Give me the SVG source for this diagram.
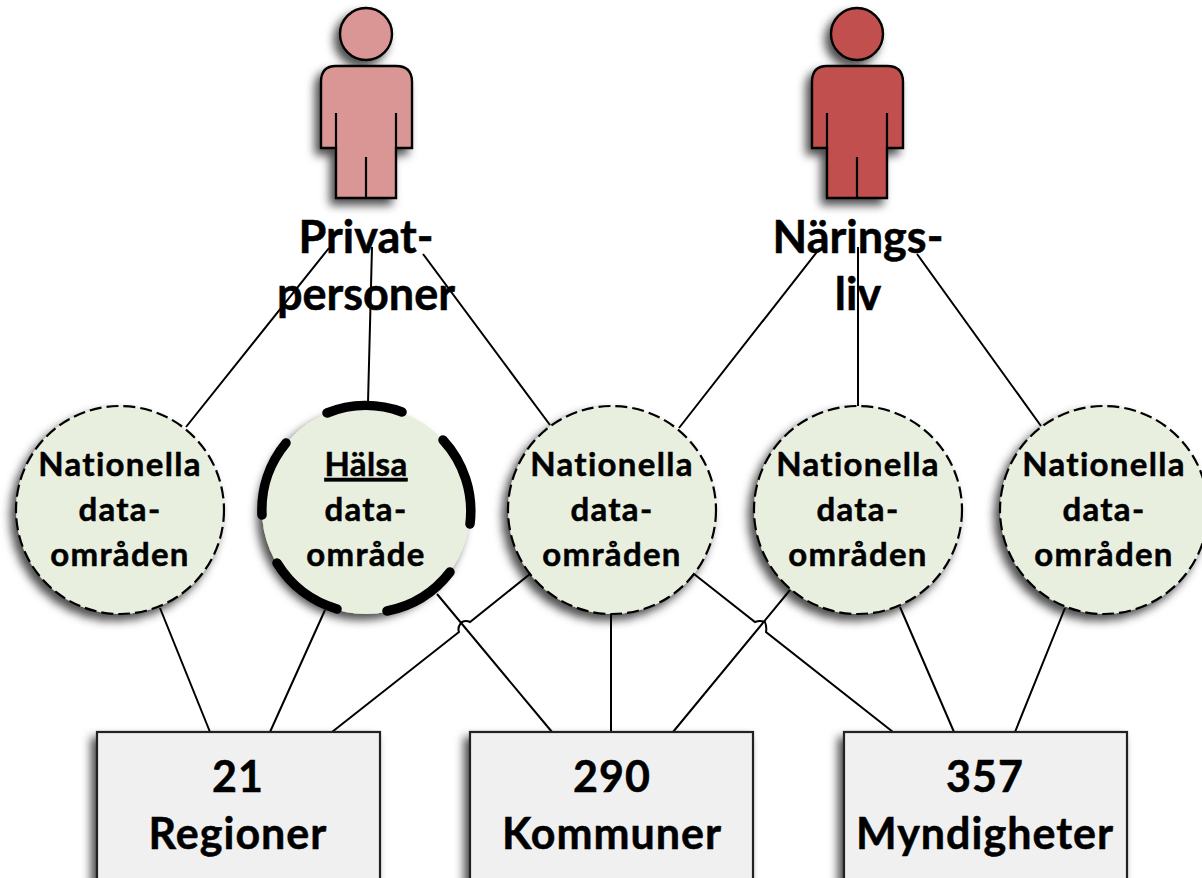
<svg xmlns="http://www.w3.org/2000/svg" width="1202" height="878" viewBox="0 0 1202 878">
<style>
text{font-family:"Lato","Open Sans","Liberation Sans",sans-serif;font-weight:700;fill:#000;stroke:#000;stroke-width:.5;text-anchor:middle}
.c{font-size:33px;letter-spacing:1.3px}
.l{font-size:45px}
.b{font-size:43px;letter-spacing:1px}
.d{fill:#e9efdf;stroke:#000;stroke-width:2.2;stroke-dasharray:12 5}
.r{fill:#f0f0f0;stroke:#222;stroke-width:2.2}
.p{stroke:#000;stroke-width:2.4}
.i{fill:none;stroke:#000;stroke-width:2.2}
#connectors path{fill:none;stroke:#000;stroke-width:2}
.h{fill:none;stroke:#000;stroke-width:9.5;stroke-linecap:round}
</style>
<defs>
<filter id="s" x="-20%" y="-20%" width="140%" height="140%"><feDropShadow dx="-5" dy="6" stdDeviation="5" flood-color="#000" flood-opacity=".7"/></filter>
<g id="person">
<g filter="url(#s)">
<circle cx="366" cy="34" r="26"/>
<path d="M336 66H396Q412 66 412 82V148H396V198H336V148H321V82Q321 66 336 66Z"/>
</g>
<path class="i" d="M336 113V148M396 113V148M366 157V198"/>
</g>
</defs>
<g id="connectors">
<path d="M186 427L329 248M368 403L372 247M550 425L423 254M679 428L820 248M858 406V247M1041 426L917 254"/>
<path d="M160 608L210 732M325 610L270 732M611 614V732M900 607L954 732M1065 608L1015 732"/>
<path d="M437 594L552 732M790 590L673 732"/>
<path d="M530 574L470 622Q466 620 462 622Q457 627 459 632L332 732"/>
<path d="M694 574L755 622Q760 620 765 622Q767 627 766 632L893 732"/>
</g>
<g id="person-privat" fill="#d99694" class="p"><use href="#person"/></g>
<g id="person-naring" fill="#c0504d" class="p"><use href="#person" x="491"/></g>
<g id="label-privat"><text class="l" x="366" y="253">Privat-</text><text class="l" x="366" y="310">personer</text></g>
<g id="label-naring"><text class="l" x="858" y="253">Närings-</text><text class="l" x="858" y="310">liv</text></g>
<g id="area1"><circle class="d" filter="url(#s)" cx="120" cy="510" r="104"/><text class="c" x="120" y="476">Nationella</text><text class="c" x="120" y="521">data-</text><text class="c" x="120" y="566">områden</text></g>
<g id="area2"><circle filter="url(#s)" fill="#e9efdf" cx="366" cy="510" r="104"/>
<path class="h" d="M327 413A105 105 0 0 1 402 412M443 440A105 105 0 0 1 470 524M450 572A105 105 0 0 1 387 611M337 609A105 105 0 0 1 277 563M262 515A105 105 0 0 1 286 443"/>
<text class="c" x="366" y="476" text-decoration="underline" style="letter-spacing:.4px">Hälsa</text><text class="c" x="366" y="521">data-</text><text class="c" x="366" y="566">område</text></g>
<g id="area3"><circle class="d" filter="url(#s)" cx="612" cy="510" r="104"/><text class="c" x="612" y="476">Nationella</text><text class="c" x="612" y="521">data-</text><text class="c" x="612" y="566">områden</text></g>
<g id="area4"><circle class="d" filter="url(#s)" cx="858" cy="510" r="104"/><text class="c" x="858" y="476">Nationella</text><text class="c" x="858" y="521">data-</text><text class="c" x="858" y="566">områden</text></g>
<g id="area5"><circle class="d" filter="url(#s)" cx="1104" cy="510" r="104"/><text class="c" x="1104" y="476">Nationella</text><text class="c" x="1104" y="521">data-</text><text class="c" x="1104" y="566">områden</text></g>
<g id="box-regioner"><rect class="r" filter="url(#s)" x="97" y="732" width="283" height="150"/><text class="b" x="238" y="792">21</text><text class="b" x="238" y="849">Regioner</text></g>
<g id="box-kommuner"><rect class="r" filter="url(#s)" x="470" y="732" width="283" height="150"/><text class="b" x="612" y="792">290</text><text class="b" x="612" y="849">Kommuner</text></g>
<g id="box-myndigheter"><rect class="r" filter="url(#s)" x="844" y="732" width="283" height="150"/><text class="b" x="985" y="792">357</text><text class="b" x="985" y="849">Myndigheter</text></g>
</svg>
